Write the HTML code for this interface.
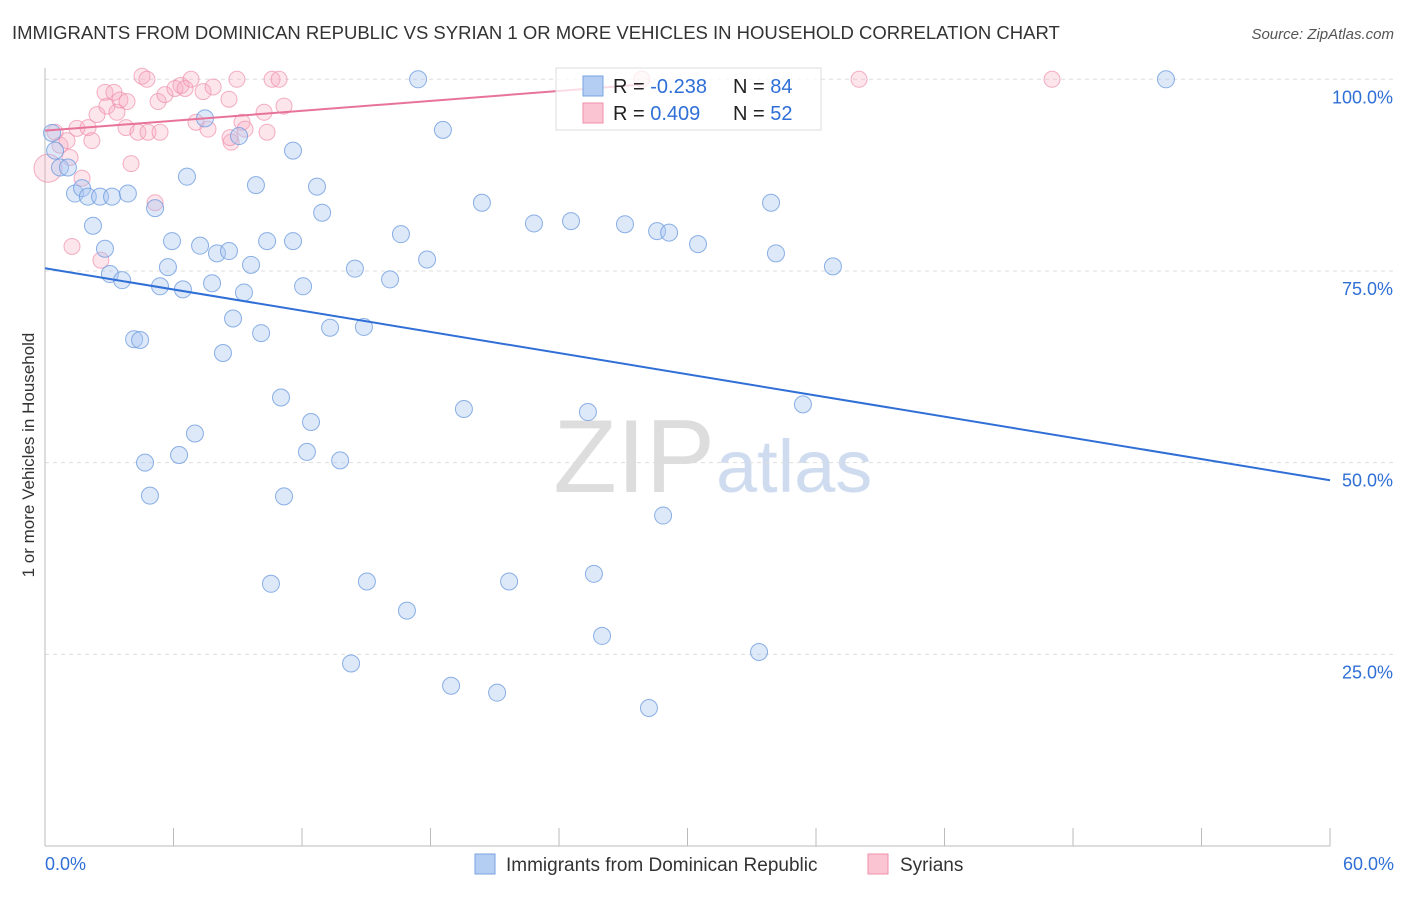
<!DOCTYPE html>
<html><head><meta charset="utf-8"><style>
body{margin:0;background:#fff;font-family:"Liberation Sans",sans-serif}
svg text{font-family:"Liberation Sans",sans-serif}
</style></head><body>
<svg id="chart" width="1406" height="892" viewBox="0 0 1406 892">
<text x="12" y="39" font-size="18.5" fill="#333">IMMIGRANTS FROM DOMINICAN REPUBLIC VS SYRIAN 1 OR MORE VEHICLES IN HOUSEHOLD CORRELATION CHART</text>
<text x="1394" y="39" font-size="15" fill="#555" text-anchor="end" font-style="italic">Source: ZipAtlas.com</text>
<text x="715" y="492" font-size="104" fill="#ddd" text-anchor="end" font-family="Liberation Serif">ZIP</text>
<text x="716" y="492" font-size="74" fill="#cfdcf0">atlas</text>
<g id="grid"></g><g id="axes"></g><g id="pts"></g><g id="lines"></g>
<text transform="translate(34,455) rotate(-90)" font-size="17" fill="#333" text-anchor="middle">1 or more Vehicles in Household</text>
<g>
<rect x="556" y="68" width="265" height="62" fill="#fff" fill-opacity="0.75" stroke="#ddd"/>
<rect x="583" y="76" width="20" height="20" fill="#b3cdf3" stroke="#7aa3e0"/>
<rect x="583" y="103" width="20" height="20" fill="#fbc4d3" stroke="#f08fab"/>
<text x="613" y="93" font-size="20" fill="#222">R = <tspan fill="#2f6fd6">-0.238</tspan></text>
<text x="733" y="93" font-size="20" fill="#222">N = <tspan fill="#2f6fd6">84</tspan></text>
<text x="613" y="120" font-size="20" fill="#222">R =  <tspan fill="#2f6fd6">0.409</tspan></text>
<text x="733" y="120" font-size="20" fill="#222">N = <tspan fill="#2f6fd6">52</tspan></text>
</g>
<g>
<rect x="475" y="854" width="20" height="20" fill="#b3cdf3" stroke="#7aa3e0"/>
<text x="506" y="871" font-size="19" fill="#333">Immigrants from Dominican Republic</text>
<rect x="868" y="854" width="20" height="20" fill="#fbc4d3" stroke="#f08fab"/>
<text x="900" y="871" font-size="19" fill="#333">Syrians</text>
</g>
</svg>
<script>
const xTicks=[0,6,12,18,24,30,36,42,48,54,60];
const yTicks=[25,50,75,100];
const yTickLabels=["25.0%","50.0%","75.0%","100.0%"];
const blueX=[0.33,0.47,0.7,1.07,1.4,1.73,2.0,2.57,3.13,3.87,2.24,2.8,3.03,3.6,5.14,5.37,5.74,5.93,6.44,6.63,7.24,7.47,7.8,8.03,8.59,8.78,9.29,9.62,9.85,10.09,10.37,9.06,11.58,11.58,12.05,12.7,12.94,13.31,14.47,14.89,16.11,16.62,17.84,17.42,18.58,20.4,22.83,24.56,27.08,28.58,29.14,30.49,33.9,34.13,36.79,52.34,4.16,4.44,8.31,11.02,12.42,7.0,6.26,4.67,12.23,13.78,4.9,11.16,19.56,25.35,35.39,28.86,10.55,15.03,21.67,25.63,16.9,26.01,33.34,14.29,18.96,21.11,28.2];
const blueY=[93.0,90.7,88.5,88.5,85.1,85.8,84.7,84.7,84.7,85.1,80.9,77.9,74.6,73.8,83.2,73.0,75.5,78.9,72.6,87.3,78.3,94.9,73.4,77.3,77.6,68.8,72.2,75.8,86.2,66.9,78.9,92.6,78.9,90.7,73.0,86.0,82.6,67.6,75.3,67.7,73.9,79.8,76.5,100,93.4,83.9,81.2,81.5,81.1,80.2,80.0,78.5,83.9,77.3,75.6,100,66.1,66.0,64.3,58.5,55.3,53.8,51.0,50.0,51.4,50.3,45.7,45.6,57.0,56.6,57.6,43.1,34.2,34.5,34.5,35.5,30.7,27.4,25.3,23.8,20.9,20.0,18.0];
const pinkX=[0.14,0.47,0.7,1.03,1.17,1.26,1.49,1.73,2.01,2.19,2.43,2.61,2.89,2.8,3.22,3.36,3.5,3.83,3.78,4.02,4.34,4.53,4.76,4.81,5.14,5.37,5.28,5.6,6.07,6.35,6.54,6.82,7.05,7.38,7.61,7.85,8.59,8.69,8.96,9.2,9.34,10.23,10.37,10.6,10.93,11.16,27.87,38.01,47.02,8.64];
const pinkY=[88.4,93.1,91.4,92.0,89.8,78.2,93.6,87.1,93.7,92.0,95.4,76.4,96.5,98.3,98.3,95.7,97.3,97.1,93.7,89.0,93.1,100.4,100,93.1,83.9,93.1,97.1,98.0,98.8,99.2,98.8,100,94.4,98.4,93.5,99.0,97.4,91.8,100,94.4,93.5,95.7,93.1,100,100,96.5,100,100,100,92.4];
const blueTrend=[75.35,47.7];
const pinkTrend=[93.3,99.3];
const pinkTrendEnd=27.8;
const X=v=>45+v*21.417, Y=v=>846-v*7.667;
const NS="http://www.w3.org/2000/svg";
function mk(t,a,p){const e=document.createElementNS(NS,t);for(const k in a)e.setAttribute(k,a[k]);document.getElementById(p).appendChild(e);return e;}
yTicks.forEach((t,i)=>{
 const g=mk('line',{x1:45,x2:1394,y1:Y(t),y2:Y(t),stroke:'#ddd','stroke-dasharray':'4,4'},'grid');
 
 
 const l=mk('text',{x:1393,y:Y(t)+24,'font-size':18,fill:'#2f6fd6','text-anchor':'end'},'axes');l.textContent=yTickLabels[i];
 
 
});
mk('line',{x1:45,x2:45,y1:68,y2:846,stroke:'#bbb'},'axes');
mk('line',{x1:45,x2:1330,y1:846,y2:846,stroke:'#bbb'},'axes');
xTicks.forEach(t=>{const l=mk('line',{x1:X(t),x2:X(t),y1:828,y2:846,stroke:'#bbb'},'axes');
 
 });
let a=mk('text',{x:45,y:870,'font-size':18,fill:'#2f6fd6'},'axes');a.textContent='0.0%';


a=mk('text',{x:1394,y:870,'font-size':18,fill:'#2f6fd6','text-anchor':'end'},'axes');a.textContent='60.0%';


pinkX.forEach((x,i)=>{const c=mk('circle',{cx:X(x),cy:Y(pinkY[i]),r:i==0?14:8,fill:'#f7a8c0','fill-opacity':0.3,stroke:'#ee8fab','stroke-opacity':0.7},'pts');
 
 });
blueX.forEach((x,i)=>{const c=mk('circle',{cx:X(x),cy:Y(blueY[i]),r:8.5,fill:'#a9c6f0','fill-opacity':0.4,stroke:'#6f9ee0','stroke-opacity':0.8},'pts');
 
 });
let t=mk('line',{x1:X(0),y1:Y(blueTrend[0]),x2:X(60),y2:Y(blueTrend[1]),stroke:'#2f6fd6','stroke-width':2},'lines');


t=mk('line',{x1:X(0),y1:Y(pinkTrend[0]),x2:X(pinkTrendEnd),y2:Y(pinkTrend[1]),stroke:'#e8739a','stroke-width':2},'lines');


</script>
</body></html>
